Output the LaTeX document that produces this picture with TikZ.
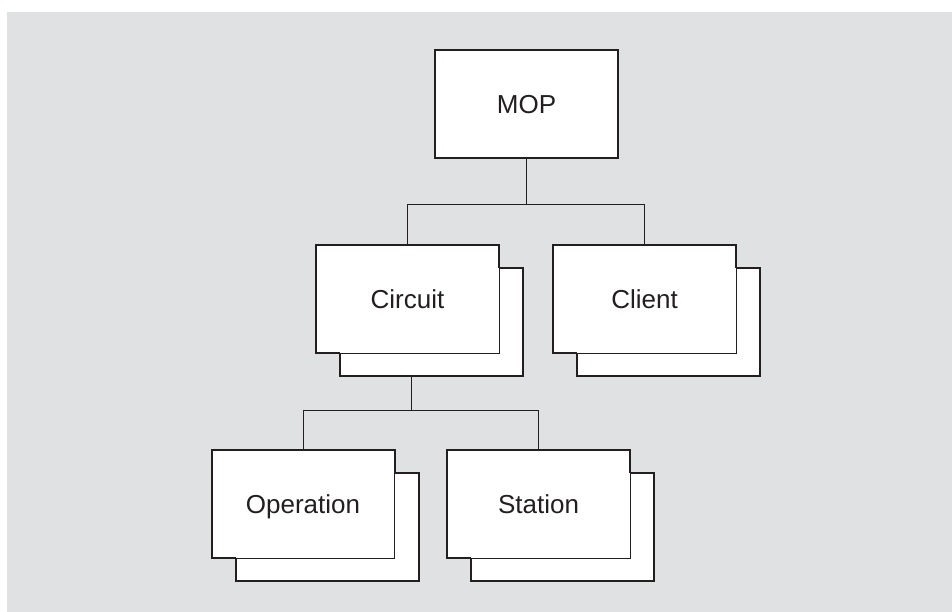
\documentclass[tikz,border=0pt]{standalone}
\usepackage{fontspec}
\setmainfont{Liberation Sans}
\usepackage{tikz}
\usetikzlibrary{calc,positioning}
\definecolor{mygray}{RGB}{224,225,227}
\definecolor{myink}{RGB}{35,31,32}
\tikzstyle{frontbox}=[draw=myink,fill=white,line width=0.8pt,minimum width=183pt,minimum height=108pt,inner sep=0pt,outer sep=0pt,text height=19pt,text depth=0pt,font=\fontsize{26}{30}\selectfont,text=myink]
\tikzstyle{backbox}=[draw=myink,fill=white,line width=2pt,minimum width=183pt,minimum height=108pt,inner sep=0pt,outer sep=0pt]
\tikzstyle{rim}=[draw=myink,line width=2pt]
\tikzstyle{wire}=[draw=myink,line width=0.8pt]
% a box with a second one lying behind it
\newcommand{\pilebox}[4]{%
  \draw (#2+24,#3+23) node [backbox] (#1b) {};
  \draw (#2,#3) node [frontbox] (#1) {#4};
  \draw[rim] (#1b.west |- #1.south) -- (#1.south west) -- (#1.north west) -- (#1.north east) -- (#1.east |- #1b.north);
}

\begin{document}
\begin{tikzpicture}[x=1pt,y=-1pt]
\useasboundingbox (0,0) rectangle (952,612);
\fill[mygray] (7,12) rectangle (952,612);
\draw (526.5,104.5) node [frontbox,line width=2pt] (mop) {MOP};
\pilebox{circuit}{407.5}{299}{Circuit}
\pilebox{client}{644.5}{299}{Client}
\pilebox{oper}{303}{504}{Operation}
\pilebox{stat}{538.5}{504}{Station}
\coordinate (bus1) at (526.5,204);
\coordinate (bus2) at (411,410);
\draw[wire] (mop) -- (bus1);
\draw[wire] (bus1) -| (circuit);
\draw[wire] (bus1) -| (client);
\draw[wire] (bus2 |- circuitb.south) -- (bus2);
\draw[wire] (bus2) -| (oper);
\draw[wire] (bus2) -| (stat);
\end{tikzpicture}
\end{document}
